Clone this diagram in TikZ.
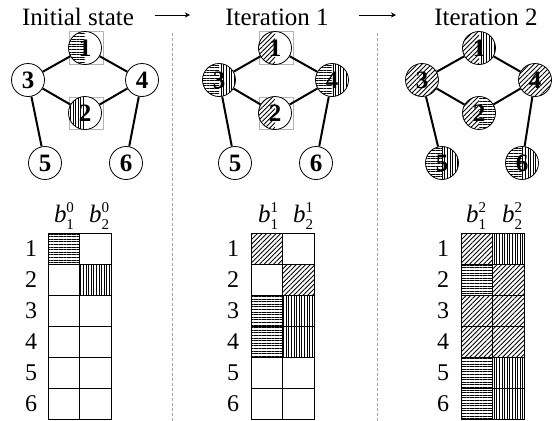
\documentclass[tikz,border=0pt]{standalone}
\usepackage{fontspec}
\setmainfont{Liberation Serif}
\usetikzlibrary{patterns.meta,arrows.meta}
\newcommand\bhdr[2]{\textit{b}\rlap{\raisebox{0.42em}{\fontsize{15}{15}\selectfont #2}}\raisebox{-0.28em}{\fontsize{15}{15}\selectfont #1}}
\begin{document}
\begin{tikzpicture}[x=1pt,y=-1pt,
 hpat/.style={pattern={Lines[angle=0,distance=2.6pt,line width=0.45pt]}},
 vpat/.style={pattern={Lines[angle=90,distance=2.6pt,line width=0.45pt]}},
 dpat/.style={pattern={Lines[angle=45,distance=3.3pt,line width=0.9pt]}},
 nopat/.style={},
 gnode/.style={circle,draw,line width=0.8pt,fill=white,minimum size=33pt,inner sep=0pt,
   font=\fontsize{25}{25}\selectfont\bfseries},
 lp/.style={path picture={\path[#1] (path picture bounding box.south west) rectangle (path picture bounding box.north);}},
 fp/.style={path picture={\path[#1] (path picture bounding box.south west) rectangle (path picture bounding box.north east);}},
 lrp/.style 2 args={path picture={\path[#1] (path picture bounding box.south west) rectangle (path picture bounding box.north);
   \path[#2] (path picture bounding box.south) rectangle (path picture bounding box.north east);}},
 gline/.style={line width=2pt},
 graybox/.style={draw=gray!60,line width=0.5pt},
 ttl/.style={font=\fontsize{25}{25}\selectfont,anchor=base},
 tarrow/.style={-{Stealth[length=5pt,width=5pt]},line width=0.5pt},
 sep/.style={draw=gray!70,line width=0.6pt,dash pattern=on 3pt off 2pt},
 tline/.style={line width=0.8pt},
 rowlab/.style={font=\fontsize{24}{24}\selectfont},
 hdr/.style={font=\fontsize{25}{25}\selectfont},
]
\useasboundingbox (0,0) rectangle (558,421);

% titles
\node[ttl] (t0) at (78,25) {Initial state};
\node[ttl] (t1) at (277,25) {Iteration 1};
\node[ttl] (t2) at (486,25) {Iteration 2};
\coordinate (a1s) at (155,15); \coordinate (a1e) at (190,15);
\coordinate (a2s) at (359,15); \coordinate (a2e) at (396,15);
\draw[tarrow] (a1s) -- (a1e);
\draw[tarrow] (a2s) -- (a2e);

% separators
\coordinate (s1t) at (172,33); \coordinate (s1b) at (172,421);
\coordinate (s2t) at (377,33); \coordinate (s2b) at (377,421);
\draw[sep] (s1t) -- (s1b);
\draw[sep] (s2t) -- (s2b);

% ---------- graph 1 ----------
\draw[graybox] (69,31) rectangle (103,64);
\draw[graybox] (69,97) rectangle (103,129);
\node[gnode,lp=hpat] (g1n1) at (85,48) {1};
\node[gnode,lp=vpat] (g1n2) at (85,113) {2};
\node[gnode] (g1n3) at (28,80) {3};
\node[gnode] (g1n4) at (142,80) {4};
\node[gnode] (g1n5) at (45,163) {5};
\node[gnode] (g1n6) at (126,163) {6};
\draw[gline] (g1n1) -- (g1n3);
\draw[gline] (g1n1) -- (g1n4);
\draw[gline] (g1n3) -- (g1n2);
\draw[gline] (g1n2) -- (g1n4);
\draw[gline] (g1n3) -- (g1n5);
\draw[gline] (g1n4) -- (g1n6);

% ---------- graph 2 ----------
\draw[graybox] (259,31) rectangle (293,64);
\draw[graybox] (259,97) rectangle (293,129);
\node[gnode,lp=dpat] (g2n1) at (275,48) {1};
\node[gnode,lp=dpat] (g2n2) at (275,113) {2};
\node[gnode,lrp={hpat}{vpat}] (g2n3) at (219,80) {3};
\node[gnode,lrp={hpat}{vpat}] (g2n4) at (332,80) {4};
\node[gnode] (g2n5) at (235,163) {5};
\node[gnode] (g2n6) at (316,163) {6};
\draw[gline] (g2n1) -- (g2n3);
\draw[gline] (g2n1) -- (g2n4);
\draw[gline] (g2n3) -- (g2n2);
\draw[gline] (g2n2) -- (g2n4);
\draw[gline] (g2n3) -- (g2n5);
\draw[gline] (g2n4) -- (g2n6);

% ---------- graph 3 ----------
\node[gnode,lrp={dpat}{vpat}] (g3n1) at (479,48) {1};
\node[gnode,lrp={dpat}{hpat}] (g3n2) at (479,113) {2};
\node[gnode,fp=dpat] (g3n3) at (422,80) {3};
\node[gnode,fp=dpat] (g3n4) at (535,80) {4};
\node[gnode,lrp={hpat}{vpat}] (g3n5) at (442,163) {5};
\node[gnode,lrp={hpat}{vpat}] (g3n6) at (522,163) {6};
\draw[gline] (g3n1) -- (g3n3);
\draw[gline] (g3n1) -- (g3n4);
\draw[gline] (g3n3) -- (g3n2);
\draw[gline] (g3n2) -- (g3n4);
\draw[gline] (g3n3) -- (g3n5);
\draw[gline] (g3n4) -- (g3n6);

% ---------- table 1 ----------
\begin{scope}
\foreach \r/\pa/\pb in {1/hpat/nopat,2/nopat/vpat,3/nopat/nopat,4/nopat/nopat,5/nopat/nopat,6/nopat/nopat}{
  \path[\pa] (48,{233+31*(\r-1)}) rectangle (79,{233+31*\r});
  \path[\pb] (79,{233+31*(\r-1)}) rectangle (111,{233+31*\r});
  \node[rowlab] (ar\r) at (31,{248.5+31*(\r-1)}) {\r};
}
\draw[tline] (48,233) rectangle (111,419);
\draw[tline] (79,233) -- (79,419);
\foreach \k in {1,...,5}{\draw[tline] (48,{233+31*\k}) -- (111,{233+31*\k});}
\node[hdr] (ah1) at (64,216) {\bhdr{1}{0}};
\node[hdr] (ah2) at (99,216) {\bhdr{2}{0}};
\end{scope}

% ---------- table 2 ----------
\begin{scope}[xshift=203pt]
\foreach \r/\pa/\pb in {1/dpat/nopat,2/nopat/dpat,3/hpat/vpat,4/hpat/vpat,5/nopat/nopat,6/nopat/nopat}{
  \path[\pa] (48,{233+31*(\r-1)}) rectangle (79,{233+31*\r});
  \path[\pb] (79,{233+31*(\r-1)}) rectangle (111,{233+31*\r});
  \node[rowlab] (br\r) at (30,{248.5+31*(\r-1)}) {\r};
}
\draw[tline] (48,233) rectangle (111,419);
\draw[tline] (79,233) -- (79,419);
\foreach \k in {1,...,5}{\draw[tline] (48,{233+31*\k}) -- (111,{233+31*\k});}
\node[hdr] (bh1) at (65,216) {\bhdr{1}{1}};
\node[hdr] (bh2) at (100,216) {\bhdr{2}{1}};
\end{scope}

% ---------- table 3 ----------
\begin{scope}[xshift=413pt]
\foreach \r/\pa/\pb in {1/dpat/vpat,2/hpat/dpat,3/dpat/dpat,4/dpat/dpat,5/hpat/vpat,6/hpat/vpat}{
  \path[\pa] (48,{233+31*(\r-1)}) rectangle (79,{233+31*\r});
  \path[\pb] (79,{233+31*(\r-1)}) rectangle (111,{233+31*\r});
  \node[rowlab] (cr\r) at (30,{248.5+31*(\r-1)}) {\r};
}
\draw[tline] (48,233) rectangle (111,419);
\draw[tline] (79,233) -- (79,419);
\foreach \k in {1,...,5}{\draw[tline] (48,{233+31*\k}) -- (111,{233+31*\k});}
\node[hdr] (ch1) at (63,216) {\bhdr{1}{2}};
\node[hdr] (ch2) at (99,216) {\bhdr{2}{2}};
\end{scope}
\end{tikzpicture}
\end{document}
